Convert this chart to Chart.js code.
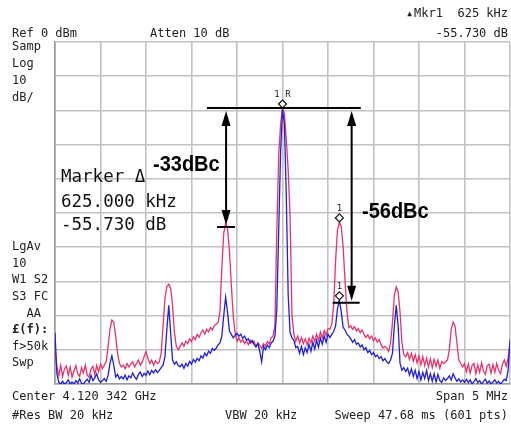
<!DOCTYPE html>
<html>
<head>
<meta charset="utf-8">
<script src="https://cdn.jsdelivr.net/npm/chart.js@4.4.1/dist/chart.umd.min.js"></script>
<style>
  html, body { margin: 0; padding: 0; background: #fff; }
  #wrap { width: 511px; height: 425px; position: relative; }
</style>
</head>
<body>
<div id="wrap"><canvas id="spec"></canvas></div>
<script>
// sweep: center 4.120342 GHz, span 5 MHz -> offsets in kHz
const spanKHz = 5000;
const nPts = 241;

// max hold trace (red), dBm
const redTrace = [
  -90, -95, -97.5, -94.5, -97.8, -95.6, -94.8, -97.5, -95, -98,
  -96.2, -94.6, -97, -97.8, -95.2, -96.8, -94.5, -97.4, -98, -95.6,
  -94.8, -97.2, -94.6, -96.5, -94.2, -95.5, -94.5, -93.5, -89, -84,
  -81.3, -82, -86, -91, -94, -95, -94.5, -95.5, -94, -95,
  -94.2, -93.5, -95, -94, -93, -94.5, -93.6, -92, -90.5, -92.5,
  -94, -93, -94.5, -93.2, -94, -93.5, -91, -83, -75, -71.5,
  -70.8, -72, -77, -85, -89, -90, -89, -88, -89, -87.5,
  -88.2, -86.8, -87.6, -86.2, -87, -85.5, -86.3, -85, -84.2, -85.4,
  -84, -84.8, -83.5, -84.2, -83, -82.5, -82, -79, -66, -56,
  -52.9, -54.5, -61, -71, -80, -85, -87.5, -86.5, -87.8, -87,
  -88.2, -87.4, -88.5, -87.2, -88, -87.5, -89, -88, -88.8, -89.5,
  -88.2, -88.9, -87.6, -88.3, -86.5, -86, -83, -55, -33, -24,
  -19.3, -21, -28.5, -37.5, -51, -80, -85.5, -87.6, -86, -88,
  -86.4, -88.2, -86.8, -88.6, -86.6, -88, -86, -87.6, -85.4, -87.2,
  -84.8, -86.6, -84.4, -85.8, -83.8, -84, -82.5, -77, -64, -55,
  -52.6, -54, -60, -70, -79, -83.5, -83, -84, -83.2, -84.5,
  -83.8, -85, -84.2, -85.5, -86.4, -85.6, -86.8, -86, -87.4, -86.5,
  -87.8, -87, -88.5, -89.5, -89, -89.5, -90.5, -88, -82, -74,
  -71.6, -73, -79, -88, -91.5, -92, -90.8, -92.8, -91, -93.4,
  -91.4, -93.8, -91.8, -94.4, -92, -94.6, -92.4, -95, -92.6, -95.2,
  -92.8, -94.8, -93, -95.4, -93.4, -94, -93.5, -93, -90, -84,
  -81.9, -83, -88, -93, -94, -95, -94, -96.4, -94.2, -96.8,
  -94.6, -94, -97, -94.4, -96.6, -93.8, -96.2, -97.2, -94.6, -94.2,
  -96.8, -94.4, -96.6, -94, -96, -97, -94.2, -93, -94.8, -92.5,
  -88
];

// current sweep trace (blue), dBm
const blueTrace = [
  -85, -97, -99.5, -100, -99.2, -100, -99.6, -98.8, -100, -99.4,
  -100, -99, -99.7, -98.5, -99.8, -100, -99.2, -98.6, -99.5, -97.5,
  -99, -98.2, -97, -98.8, -99.5, -99, -98.4, -99.2, -97.5, -94,
  -91.8, -94.5, -98, -97.2, -98.5, -97.8, -98.5, -97.4, -98.8, -97.6,
  -98.2, -96.8, -97.9, -98.6, -97.2, -96.5, -97.8, -96.9, -97.5, -96.2,
  -97.3, -96, -96.8, -95.8, -96.6, -96, -95.2, -94.5, -92, -84,
  -77, -85, -93, -94.2, -93.5, -94.6, -95, -94.2, -95.4, -94,
  -94.8, -93.4, -94.2, -92.8, -93.6, -92.5, -93.2, -91.8, -92.4, -91,
  -91.8, -90.4, -91, -89.6, -90.2, -89.5, -88.6, -88, -86, -80,
  -74.6, -79, -84.5, -85.5, -86.5, -85.8, -85.2, -86, -85.4, -86.6,
  -86, -87.2, -86.8, -88, -87.3, -88.4, -89.2, -88.2, -90.5, -93.5,
  -89, -90, -88.6, -89.4, -88, -87.5, -86, -78, -55, -32,
  -19.8, -24, -45, -74, -85, -86.5, -87.2, -89.4, -89, -91,
  -89, -91.4, -89.4, -90.8, -88.4, -90.4, -87.8, -89.8, -87.2, -89.2,
  -86.6, -88.4, -86, -87.8, -85.4, -86.4, -85.5, -84.6, -83, -78,
  -75.4, -79, -83.5, -84.2, -85.5, -86, -86.8, -87.8, -87, -88.4,
  -88, -89.2, -88.6, -90, -89.4, -90.8, -90.2, -91.4, -90.8, -92,
  -91.5, -92.6, -92, -93.2, -92.6, -93.5, -94, -93, -91, -83,
  -77, -83, -94, -96, -95.2, -96.4, -95.4, -97.4, -95.6, -97.8,
  -96, -98.4, -96.4, -98.8, -96.6, -98.4, -96, -99, -97, -99.2,
  -97, -99.4, -97.2, -99, -99.5, -98.2, -99, -98.4, -97.6, -98.8,
  -97, -98.2, -99.2, -98.5, -99.4, -98.8, -99.5, -98.6, -99.6, -98.8,
  -100, -99.2, -98.4, -99.6, -99, -100, -99.3, -98.6, -99.8, -99.1,
  -100, -99.4, -98.8, -99.7, -99.2, -100, -99.4, -98.6, -99, -96,
  -87
];

// markers: freq offset (kHz), level (dBm), label
const mkrFreq = [0, 625, 625];
const mkrLevel = [-19.3, -52.6, -75.4];
const mkrLabel = ["1R", "1", "1"];

const headLeft = ["Samp", "Log", "10", "dB/"];
const sideLeft = ["LgAv", "10", "W1 S2", "S3 FC", "  AA", "£(f):", "f>50k", "Swp"];

const freq = [];
for (let i = 0; i < nPts; i++) freq.push(-spanKHz / 2 + i * spanKHz / (nPts - 1));

const mono = '"DejaVu Sans Mono", monospace';

const overlay = {
    id: "overlay",
    afterDraw(chart) {
        const c = chart.ctx;
        const xs = chart.scales.x;
        const ys = chart.scales.y;
        c.save();
        c.fillStyle = "#222";
        c.font = "12px " + mono;
        c.textBaseline = "alphabetic";

        // header
        c.textAlign = "left";
        c.fillText("Ref 0 dBm", 12, 37);
        c.fillText("Atten 10 dB", 150, 37);
        c.textAlign = "right";
        c.fillText("Mkr1  625 kHz", 508, 17);
        c.fillText("-55.730 dB", 508, 37);
        c.font = "8px " + mono;
        c.fillText("▲", 412, 16);

        // left annotations
        c.font = "12px " + mono;
        c.textAlign = "left";
        c.textBaseline = "middle";
        headLeft.forEach((t, i) => c.fillText(t, 12, 47 + i * 17));
        sideLeft.forEach((t, i) => {
            if (i === 5) c.font = "bold 12px " + mono;
            else c.font = "12px " + mono;
            c.fillText(t, 12, 247 + i * 16.6);
        });

        // footer
        c.font = "12px " + mono;
        c.textBaseline = "alphabetic";
        c.fillText("Center 4.120 342 GHz", 12, 400);
        c.fillText("#Res BW 20 kHz", 12, 419);
        c.fillText("VBW 20 kHz", 225, 419);
        c.textAlign = "right";
        c.fillText("Span 5 MHz", 508, 400);
        c.fillText("Sweep 47.68 ms (601 pts)", 508, 419);

        // marker readout
        c.textAlign = "left";
        c.font = "17.5px " + mono;
        c.fillStyle = "#111";
        c.fillText("Marker Δ", 61, 182);
        c.fillText("625.000 kHz", 61, 207);
        c.fillText("-55.730 dB", 61, 230);

        // marker diamonds
        mkrFreq.forEach((f, i) => {
            const px = xs.getPixelForValue(f);
            const py = ys.getPixelForValue(mkrLevel[i]);
            c.beginPath();
            c.moveTo(px, py - 8);
            c.lineTo(px + 4, py - 4);
            c.lineTo(px, py);
            c.lineTo(px - 4, py - 4);
            c.closePath();
            c.fillStyle = "#fff";
            c.fill();
            c.strokeStyle = "#111";
            c.lineWidth = 1.2;
            c.stroke();
            c.fillStyle = "#222";
            c.font = "9px " + mono;
            c.textAlign = "center";
            c.fillText(mkrLabel[i].split("").join(" "), px, py - 11);
        });

        // dBc arrows
        const yRef = ys.getPixelForValue(mkrLevel[0]);
        const yL = ys.getPixelForValue(mkrLevel[1]) + 5;
        const yR = ys.getPixelForValue(mkrLevel[2]) + 3;
        const xA = xs.getPixelForValue(-620);
        const xB = xs.getPixelForValue(760);
        c.strokeStyle = "#000";
        c.fillStyle = "#000";
        c.lineWidth = 2;
        c.beginPath();
        c.moveTo(xs.getPixelForValue(-830), yRef); c.lineTo(xs.getPixelForValue(860), yRef);
        c.moveTo(xA - 9, yL); c.lineTo(xA + 9, yL);
        c.moveTo(xB - 19, yR); c.lineTo(xB + 8, yR);
        c.moveTo(xA, yRef + 12); c.lineTo(xA, yL - 12);
        c.moveTo(xB, yRef + 12); c.lineTo(xB, yR - 12);
        c.stroke();
        const head = (x, y, dir) => {
            c.beginPath();
            c.moveTo(x, y);
            c.lineTo(x - 4.5, y + dir * 15);
            c.lineTo(x + 4.5, y + dir * 15);
            c.closePath();
            c.fill();
        };
        head(xA, yRef + 3, 1);
        head(xA, yL - 2, -1);
        head(xB, yRef + 3, 1);
        head(xB, yR - 2, -1);

        c.font = 'bold 20px "Liberation Sans", Arial, sans-serif';
        c.textAlign = "left";
        c.save();
        c.scale(1, 1.1);
        c.fillText("-33dBc", 153, 171 / 1.1);
        c.fillText("-56dBc", 362, 218 / 1.1);
        c.restore();
        c.restore();
    }
};

new Chart(document.getElementById("spec"), {
    type: "line",
    data: {
        labels: freq,
        datasets: [
            {
                label: "Trace",
                data: blueTrace,
                borderColor: "#1f1fd6",
                borderWidth: 1.3,
                pointRadius: 0,
                tension: 0
            },
            {
                label: "Max Hold",
                data: redTrace,
                borderColor: "#e8336a",
                borderWidth: 1.3,
                pointRadius: 0,
                tension: 0
            }
        ]
    },
    options: {
        responsive: true,
        maintainAspectRatio: false,
        animation: false,
        layout: { padding: { left: 55, top: 42, right: 1, bottom: 41 } },
        plugins: { legend: { display: false }, tooltip: { enabled: false } },
        scales: {
            x: {
                type: "linear",
                min: -spanKHz / 2,
                max: spanKHz / 2,
                ticks: { display: false, stepSize: 500 },
                grid: { color: "#c2c2c2", lineWidth: 1.6, drawTicks: false },
                border: { color: "#9a9a9a", width: 1.6 }
            },
            y: {
                min: -100,
                max: 0,
                ticks: { display: false, stepSize: 10 },
                grid: { color: "#c2c2c2", lineWidth: 1.6, drawTicks: false },
                border: { color: "#9a9a9a", width: 1.6 }
            }
        }
    },
    plugins: [overlay]
});
</script>
</body>
</html>
